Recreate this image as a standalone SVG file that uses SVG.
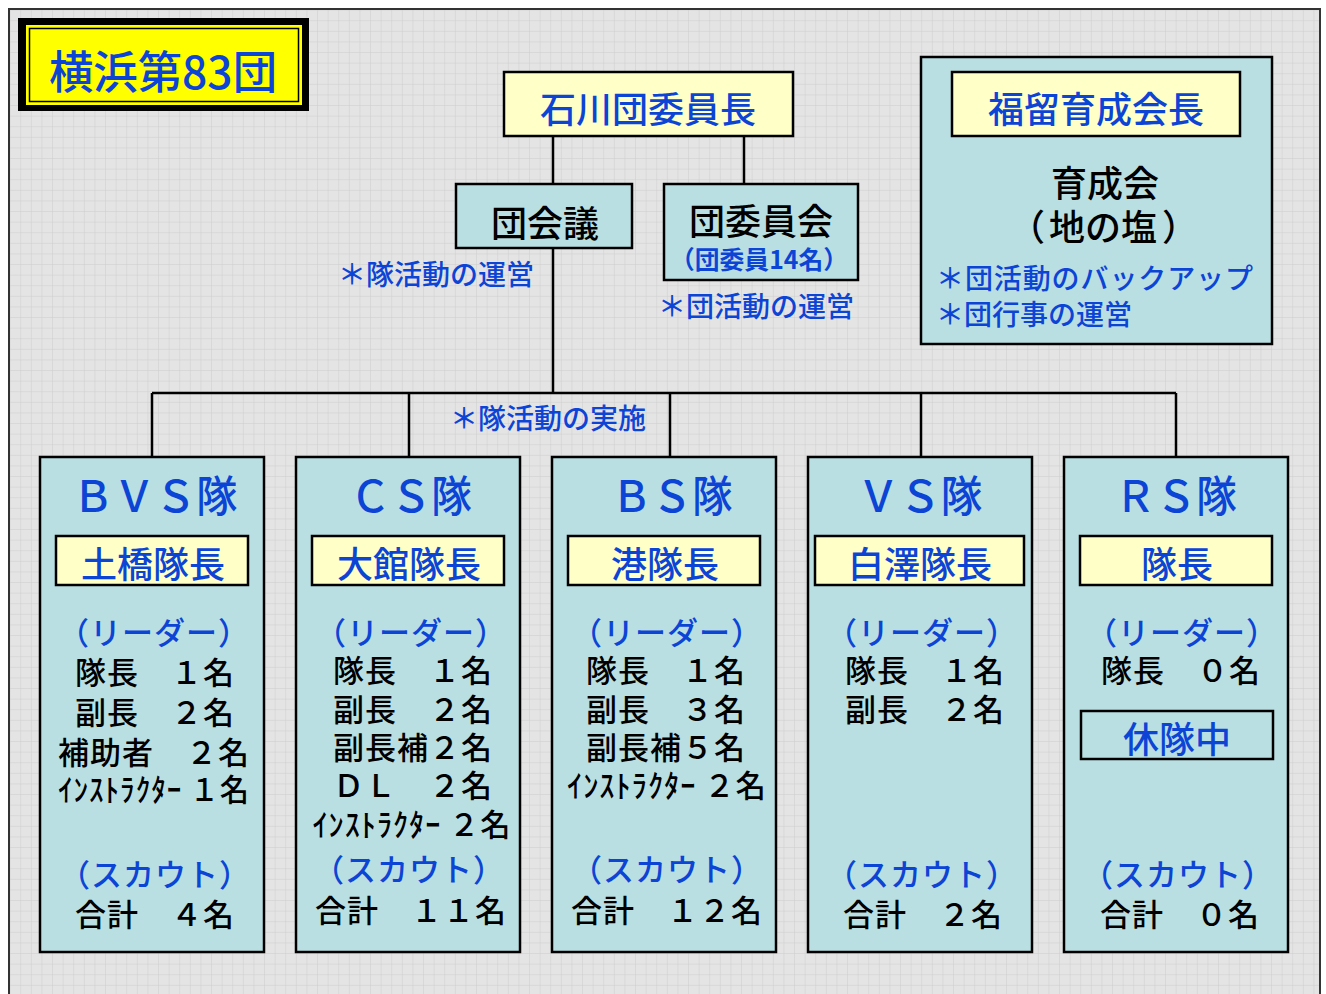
<svg xmlns="http://www.w3.org/2000/svg" width="1326" height="994" viewBox="0 0 1326 994">
<defs>
<pattern id="grid" width="10.6" height="10.6" patternUnits="userSpaceOnUse">
<rect width="10.6" height="10.6" fill="#e4e4e4"/>
<path d="M10.6 0 V10.6 M0 10.6 H10.6" stroke="#cdcdcd" stroke-width="1" fill="none"/>
</pattern>
<style>
text{font-family:"Noto Sans CJK JP","Noto Sans CJK SC",sans-serif;dominant-baseline:central;text-anchor:middle;font-weight:500}
.blue{fill:#0c44d6}
.blk{fill:#000}
.box{fill:#b9dfe2;stroke:#000;stroke-width:2.5}
.ybox{fill:#ffffc8;stroke:#000;stroke-width:2.5}
.ln{stroke:#000;stroke-width:2.5;fill:none}
.t32{font-size:31px;letter-spacing:1px}
.t36{font-size:36px}
.t28{font-size:28px}
.t44{font-size:43px}
</style>
</defs>
<rect width="1326" height="994" fill="#fff"/>
<rect x="9" y="9" width="1311" height="990" fill="url(#grid)" stroke="#333" stroke-width="2"/>

<g id="title">
<rect x="18" y="18" width="291" height="93" fill="#000"/>
<rect x="26" y="25" width="276" height="80" fill="#ffff00"/>
<rect x="29.5" y="28.5" width="269" height="73" fill="#ffff00" stroke="#000" stroke-width="1.5"/>
<text x="163" y="69" class="blue" style="font-size:45px" textLength="228" lengthAdjust="spacingAndGlyphs">横浜第83団</text>
</g>

<g id="connectors">
<path class="ln" d="M553 136 V393 M744 136 V184 M152 393 H1176 M152 393 V457 M409 393 V457 M670 393 V457 M921 393 V457 M1176 393 V457"/>
</g>

<g id="chief">
<rect x="504" y="72" width="289" height="64" class="ybox"/>
<text x="648" y="107" class="blue t36">石川団委員長</text>
</g>

<g id="dankaigi">
<rect x="456" y="184" width="176" height="64" class="box"/>
<text x="545" y="221" class="blk t36">団会議</text>
<text x="436" y="273" class="blue t28">＊隊活動の運営</text>
</g>

<g id="daniinkai">
<rect x="664" y="184" width="194" height="96" class="box"/>
<text x="761" y="219" class="blk t36">団委員会</text>
<text x="759" y="258" class="blue" style="font-size:25px;font-weight:bold" textLength="178" lengthAdjust="spacingAndGlyphs">（団委員14名）</text>
<text x="756" y="305" class="blue t28">＊団活動の運営</text>
</g>

<g id="ikuseikai">
<rect x="921" y="57" width="351" height="287" class="box"/>
<rect x="952" y="72" width="288" height="64" class="ybox"/>
<text x="1096" y="107" class="blue t36">福留育成会長</text>
<text x="1105" y="181" class="blk t36">育成会</text>
<text x="1104" y="225" class="blk t36"><tspan x="1027" style="text-anchor:middle">（</tspan></text>
<text x="1103" y="225" class="blk t36">地の塩</text>
<text x="1180" y="225" class="blk t36">）</text>
<text x="936" y="277" class="blue t28" style="text-anchor:start" textLength="317" lengthAdjust="spacing">＊団活動のバックアップ</text>
<text x="936" y="313" class="blue t28" style="text-anchor:start">＊団行事の運営</text>
</g>

<g id="jisshi">
<text x="548" y="417" class="blue t28">＊隊活動の実施</text>
</g>

<g id="bvs">
<rect x="40" y="457" width="224" height="495" class="box"/>
<text x="155" y="493" class="blue t44" textLength="165" lengthAdjust="spacingAndGlyphs">ＢＶＳ隊</text>
<rect x="56" y="536" width="192" height="49" class="ybox"/>
<text x="153" y="562" class="blue t36">土橋隊長</text>
<text x="154" y="630" class="blue t32">（リーダー）</text>
<text x="155" y="670" class="blk t32">隊長　１名</text>
<text x="155" y="710" class="blk t32">副長　２名</text>
<text x="154" y="750" class="blk t32">補助者　２名</text>
<text x="154" y="787" class="blk t32" textLength="192" lengthAdjust="spacingAndGlyphs">ｲﾝｽﾄﾗｸﾀｰ １名</text>
<text x="155" y="872" class="blue t32">（スカウト）</text>
<text x="155" y="912" class="blk t32">合計　４名</text>
</g>

<g id="cs">
<rect x="296" y="457" width="224" height="495" class="box"/>
<text x="411" y="493" class="blue t44" textLength="122" lengthAdjust="spacingAndGlyphs">ＣＳ隊</text>
<rect x="312" y="536" width="192" height="49" class="ybox"/>
<text x="409" y="562" class="blue t36">大館隊長</text>
<text x="411" y="630" class="blue t32">（リーダー）</text>
<text x="413" y="668" class="blk t32">隊長　１名</text>
<text x="413" y="707" class="blk t32">副長　２名</text>
<text x="413" y="745" class="blk t32">副長補２名</text>
<text x="413" y="783" class="blk t32">ＤＬ　２名</text>
<text x="412" y="822" class="blk t32" textLength="199" lengthAdjust="spacingAndGlyphs">ｲﾝｽﾄﾗｸﾀｰ ２名</text>
<text x="409" y="867" class="blue t32">（スカウト）</text>
<text x="411" y="908" class="blk t32">合計　１１名</text>
</g>

<g id="bs">
<rect x="552" y="457" width="224" height="495" class="box"/>
<text x="672" y="493" class="blue t44" textLength="121" lengthAdjust="spacingAndGlyphs">ＢＳ隊</text>
<rect x="568" y="536" width="192" height="49" class="ybox"/>
<text x="665" y="562" class="blue t36">港隊長</text>
<text x="667" y="630" class="blue t32">（リーダー）</text>
<text x="666" y="668" class="blk t32">隊長　１名</text>
<text x="666" y="707" class="blk t32">副長　３名</text>
<text x="666" y="745" class="blk t32">副長補５名</text>
<text x="667" y="783" class="blk t32" textLength="200" lengthAdjust="spacingAndGlyphs">ｲﾝｽﾄﾗｸﾀｰ ２名</text>
<text x="667" y="867" class="blue t32">（スカウト）</text>
<text x="667" y="908" class="blk t32">合計　１２名</text>
</g>

<g id="vs">
<rect x="808" y="457" width="224" height="495" class="box"/>
<text x="920" y="493" class="blue t44" textLength="125" lengthAdjust="spacingAndGlyphs">ＶＳ隊</text>
<rect x="815" y="536" width="209" height="49" class="ybox"/>
<text x="920" y="562" class="blue t36">白澤隊長</text>
<text x="922" y="630" class="blue t32">（リーダー）</text>
<text x="925" y="668" class="blk t32">隊長　１名</text>
<text x="925" y="707" class="blk t32">副長　２名</text>
<text x="922" y="872" class="blue t32">（スカウト）</text>
<text x="923" y="912" class="blk t32">合計　２名</text>
</g>

<g id="rs">
<rect x="1064" y="457" width="224" height="495" class="box"/>
<text x="1176" y="493" class="blue t44" textLength="122" lengthAdjust="spacingAndGlyphs">ＲＳ隊</text>
<rect x="1080" y="536" width="192" height="49" class="ybox"/>
<text x="1177" y="562" class="blue t36">隊長</text>
<text x="1182" y="630" class="blue t32">（リーダー）</text>
<text x="1181" y="668" class="blk t32">隊長　０名</text>
<rect x="1081" y="711" width="192" height="48" class="box"/>
<text x="1177" y="737" class="blue t36">休隊中</text>
<text x="1178" y="872" class="blue t32">（スカウト）</text>
<text x="1180" y="912" class="blk t32">合計　０名</text>
</g>
</svg>
